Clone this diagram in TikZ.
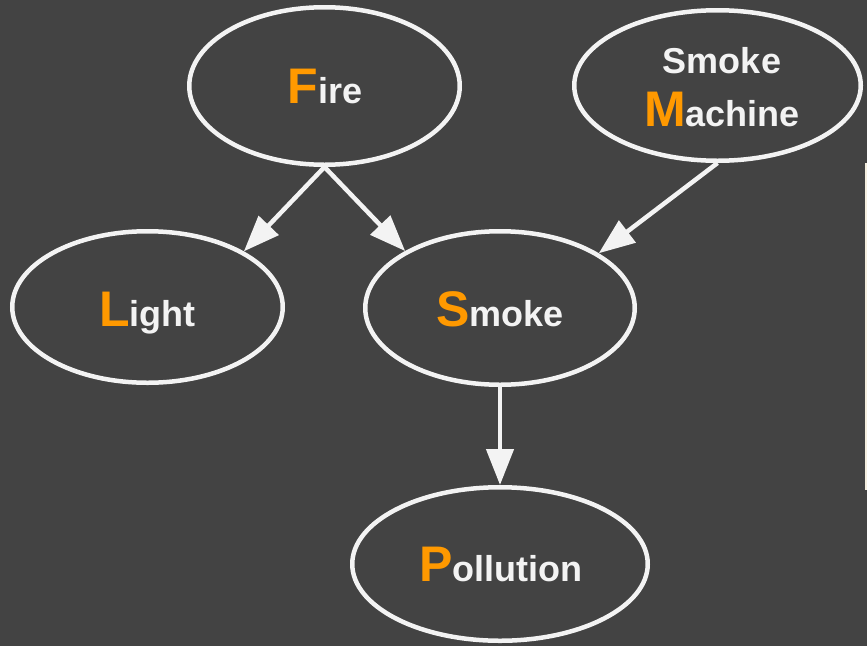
\documentclass[tikz,border=0pt]{standalone}
\usepackage{fontspec}
\setmainfont{Liberation Sans}
\usetikzlibrary{arrows.meta,shapes.geometric}
\definecolor{bg}{HTML}{434343}
\definecolor{ink}{HTML}{F3F3F3}
\definecolor{accent}{HTML}{FF9900}
\definecolor{strip}{HTML}{F5EFE0}
\newcommand{\initialletter}[1]{{\fontsize{50}{56}\selectfont\color{accent}#1}}
\tikzset{
  varnode/.style={draw=ink, line width=4.5pt, ellipse, inner sep=0pt},
  vartext/.style={anchor=base, inner sep=0pt, text=ink, font=\fontsize{36}{42}\selectfont\bfseries},
  arr/.style={draw=ink, line width=4.5pt, -{Triangle[length=36pt,width=27pt]}}
}
\begin{document}
\begin{tikzpicture}[x=1pt,y=-1pt]
\fill[bg] (0,0) rectangle (867,646);
\useasboundingbox (0,0) rectangle (867,646);
\fill[strip] (865,163) rectangle (867,490);
% ellipses
\node[varnode, minimum width=270.5pt, minimum height=157.5pt] (fire) at (324.5,86) {};
\node[varnode, minimum width=286.5pt, minimum height=150.5pt] (sm) at (717.5,85.5) {};
\node[varnode, minimum width=270.5pt, minimum height=151.5pt] (light) at (147.5,307) {};
\node[varnode, minimum width=269.5pt, minimum height=153.5pt] (smoke) at (500,308) {};
\node[varnode, minimum width=295.5pt, minimum height=153.5pt] (poll) at (500,564) {};
% texts
\node[vartext] (firet) at (325,103) {\initialletter{F}ire};
\node[vartext] (smt1) at (722,73) {Smoke};
\node[vartext] (smt2) at (722,126) {\initialletter{M}achine};
\node[vartext] (lightt) at (147.5,326) {\initialletter{L}ight};
\node[vartext] (smoket) at (500,326) {\initialletter{S}moke};
\node[vartext] (pollt) at (501,581) {\initialletter{P}ollution};
% arrows
\draw[arr] (fire.south) -- (light.30);
\draw[arr] (fire.south) -- (smoke.149.5);
\draw[arr] (sm.south) -- (smoke.29.7);
\draw[arr] (smoke.south) -- (poll.north);
\end{tikzpicture}
\end{document}
